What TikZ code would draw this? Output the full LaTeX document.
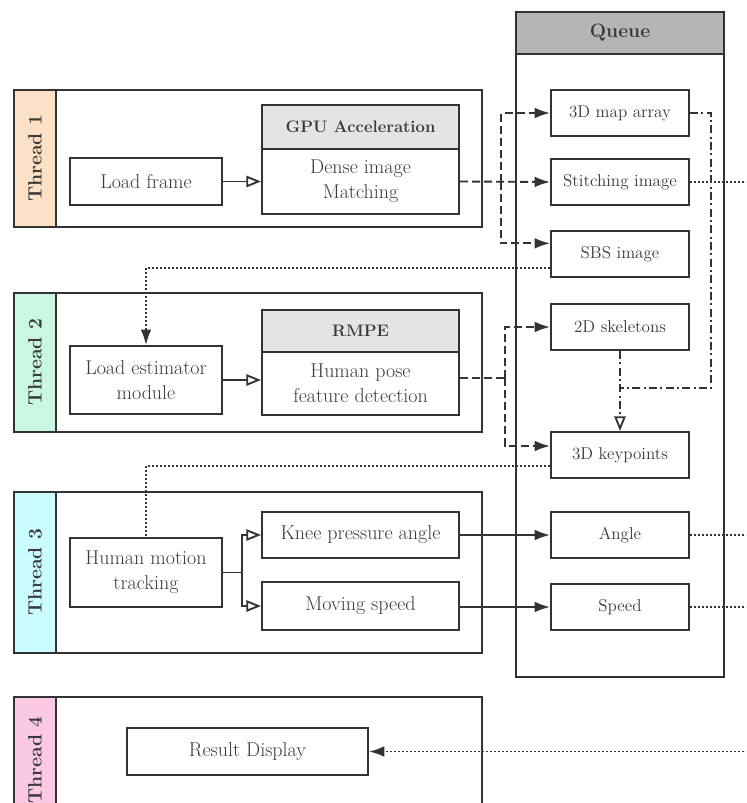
\documentclass[tikz,border=0pt]{standalone}
\usetikzlibrary{arrows.meta}

\definecolor{linegray}{HTML}{333333}
\definecolor{textgray}{HTML}{3A3A3A}
\definecolor{headgray}{HTML}{E4E4E4}
\definecolor{queuegray}{HTML}{B5B5B5}
\definecolor{peach}{HTML}{FDE1C7}
\definecolor{mint}{HTML}{C9F7E2}
\definecolor{aqua}{HTML}{CBFCFF}
\definecolor{rose}{HTML}{FCC9E5}

\begin{document}
\begin{tikzpicture}[x=0.75pt, y=-0.75pt,
  every node/.style={text=textgray},
  box/.style={draw=linegray, line width=1.5pt, fill=white, align=center,
    inner sep=2pt, font=\fontsize{15}{19}\selectfont},
  qbox/.style={box, minimum width=103.5pt, minimum height=34.5pt,
    font=\fontsize{12.8}{15}\selectfont},
  headbox/.style={box, fill=headgray, font=\fontsize{12.5}{15}\selectfont\bfseries},
  frame/.style={draw=linegray, line width=1.5pt},
  threadlab/.style={rotate=90, font=\fontsize{14.5}{17}\selectfont\bfseries},
  conn/.style={draw=linegray, line width=1.4pt},
  dashline/.style={conn, dash pattern=on 6pt off 3pt},
  dotline/.style={conn, dash pattern=on 1.5pt off 1.5pt},
  dashdotline/.style={conn, dash pattern=on 6pt off 2.5pt on 1.5pt off 2.5pt},
  fat/.style={-{Latex[length=11.5pt,width=8pt]}},
  hollow/.style={-{Triangle[open,length=11pt,width=8.5pt]}}]

\clip (0,0) rectangle (746,803);

% thread frames with coloured side strips
\fill[peach] (14,90) rectangle (56,227);
\draw[frame] (14,90) rectangle (482,227);
\draw[frame] (56,90) -- (56,227);
\node[threadlab] (t1) at (35,158.5) {Thread 1};

\fill[mint] (14,293) rectangle (56,432);
\draw[frame] (14,293) rectangle (482,432);
\draw[frame] (56,293) -- (56,432);
\node[threadlab] (t2) at (35,362.5) {Thread 2};

\fill[aqua] (14,492) rectangle (56,653);
\draw[frame] (14,492) rectangle (482,653);
\draw[frame] (56,492) -- (56,653);
\node[threadlab] (t3) at (35,572.5) {Thread 3};

\fill[rose] (14,697) rectangle (56,820);
\draw[frame] (14,820) -- (14,697) -- (482,697) -- (482,820);
\draw[frame] (56,697) -- (56,820);
\node[threadlab] (t4) at (35,760) {Thread 4};

% queue column
\draw[frame, fill=queuegray] (516,12) rectangle (724,54);
\node[font=\fontsize{14.5}{17}\selectfont\bfseries] (qhead) at (620,33) {Queue};
\draw[frame] (516,54) rectangle (724,677);

% thread 1
\node[box, minimum width=114pt, minimum height=35.25pt] (load) at (146,181.5) {Load frame};
\node[headbox, minimum width=147.75pt, minimum height=33pt] (gpuhead) at (360.5,127) {GPU Acceleration};
\node[box, minimum width=147.75pt, minimum height=48.75pt] (gpu) at (360.5,181.5) {Dense image\\Matching};

% thread 2
\node[box, minimum width=114pt, minimum height=51pt] (est) at (146,380) {Load estimator\\module};
\node[headbox, minimum width=147.75pt, minimum height=31.5pt] (rmpehead) at (360.5,331) {RMPE};
\node[box, minimum width=147.75pt, minimum height=47.25pt] (rmpe) at (360.5,383.5) {Human pose\\feature detection};

% thread 3
\node[box, minimum width=114pt, minimum height=51.75pt] (track) at (146,572.5) {Human motion\\tracking};
\node[box, minimum width=147.75pt, minimum height=34.5pt] (knee) at (360.5,535) {Knee pressure angle};
\node[box, minimum width=147.75pt, minimum height=36pt] (move) at (360.5,606) {Moving speed};

% thread 4
\node[box, minimum width=180.75pt, minimum height=35.25pt] (result) at (247.5,751.5) {Result Display};

% queue entries
\node[qbox] (map) at (620,113) {3D map array};
\node[qbox] (stitch) at (620,182) {Stitching image};
\node[qbox] (sbs) at (620,254) {SBS image};
\node[qbox] (skel) at (620,327) {2D skeletons};
\node[qbox] (keyp) at (620,455) {3D keypoints};
\node[qbox] (angle) at (620,535) {Angle};
\node[qbox] (speed) at (620,607) {Speed};

% turning points and the right-hand exit
\coordinate (fork1) at (501,0);
\coordinate (fork2) at (505,0);
\coordinate (split) at (242,0);
\coordinate (mapturn) at (711,388);
\coordinate (edge) at (760,0);

% thread 1 -> queue
\draw[conn, hollow] (load) -- (gpu.west |- load);
\draw[dashline, fat] (gpu.east) -- (stitch.west);
\draw[dashline, fat] (gpu.east -| fork1) |- (map.west);
\draw[dashline, fat] (gpu.east -| fork1) |- ([yshift=8pt]sbs.west);

% queue -> thread 2
\draw[dotline, fat] ([yshift=-10.5pt]sbs.west) -| (est.north);
\draw[conn, hollow] (est) -- (rmpe.west |- est);
\draw[dashline] ([yshift=4pt]rmpe.east) -- ([yshift=4pt]rmpe.east -| fork2);
\draw[dashline, fat] ([yshift=4pt]rmpe.east -| fork2) |- (skel.west);
\draw[dashline, fat] ([yshift=4pt]rmpe.east -| fork2) |- ([yshift=6.75pt]keyp.west);

% 2D skeletons + 3D map -> 3D keypoints
\draw[dashdotline] (map.east) -| (mapturn) -- (mapturn -| skel.south);
\draw[dashdotline, hollow] (skel.south) -- (keyp.north);

% queue -> thread 3
\draw[dotline] ([yshift=-8pt]keyp.west) -| (track.north);
\draw[conn] (track.east) -- (track.east -| split);
\draw[conn, hollow] (track.east -| split) |- (knee.west);
\draw[conn, hollow] (track.east -| split) |- (move.west);
\draw[conn, fat] (knee.east) -- (angle.west);
\draw[conn, fat] (move.east |- speed) -- (speed.west);

% queue outputs and result display
\draw[dotline] (stitch.east) -- (stitch.east -| edge);
\draw[dotline] (angle.east) -- (angle.east -| edge);
\draw[dotline] (speed.east) -- (speed.east -| edge);
\draw[dotline, fat] (result.east -| edge) -- (result.east);

\end{tikzpicture}
\end{document}
